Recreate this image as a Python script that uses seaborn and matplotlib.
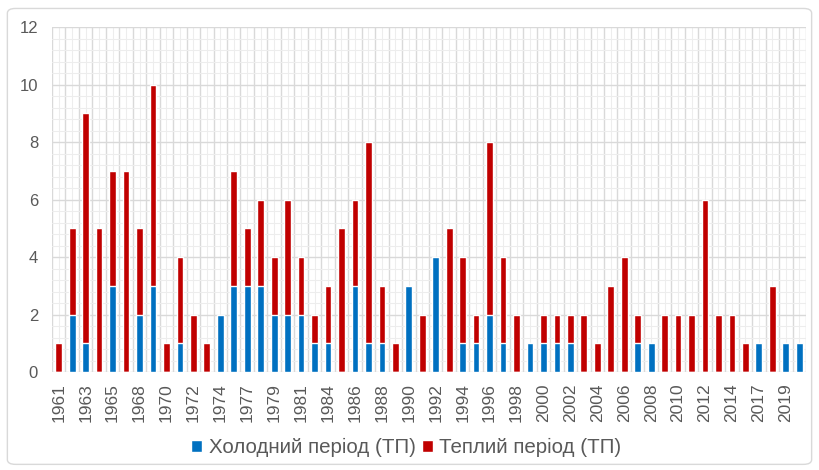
import numpy as np
import matplotlib
matplotlib.use('Agg')
import matplotlib.pyplot as plt
from matplotlib.patches import FancyBboxPatch
import seaborn as sns

years = ['1961', '1962', '1963', '1964', '1965', '1966', '1968', '1969', '1970', '1971',
         '1972', '1973', '1974', '1976', '1977', '1978', '1979', '1980', '1981', '1983',
         '1984', '1985', '1986', '1987', '1988', '1989', '1990', '1991', '1992', '1993',
         '1994', '1995', '1996', '1997', '1998', '1999', '2000', '2001', '2002', '2003',
         '2004', '2005', '2006', '2007', '2008', '2009', '2010', '2011', '2012', '2013',
         '2014', '2016', '2017', '2018', '2019', '2020']
cold = [0, 2, 1, 0, 3, 0, 2, 3, 0, 1, 0, 0, 2, 3, 3, 3, 2, 2, 2, 1,
        1, 0, 3, 1, 1, 0, 3, 0, 4, 0, 1, 1, 2, 1, 0, 1, 1, 1, 1, 0,
        0, 0, 0, 1, 1, 0, 0, 0, 0, 0, 0, 0, 1, 0, 1, 1]
warm = [1, 3, 8, 5, 4, 7, 3, 7, 1, 3, 2, 1, 0, 4, 2, 3, 2, 4, 2, 1,
        2, 5, 3, 7, 2, 1, 0, 2, 0, 5, 3, 1, 6, 3, 2, 0, 1, 1, 1, 2,
        1, 3, 4, 1, 0, 2, 2, 2, 6, 2, 2, 1, 0, 3, 0, 0]

label_cold = 'Холодний період (ТП)'
label_warm = 'Теплий період (ТП)'
blue = '#0070C0'
red = '#C00000'

sns.set_style('white')
plt.rcParams['font.family'] = ['Liberation Sans', 'DejaVu Sans']

total = np.array(cold) + np.array(warm)

fig = plt.figure(figsize=(8.19, 4.70), dpi=100)
ax = fig.add_axes([0.0635, 0.2085, 0.9206, 0.734])

# stacked: total in red, cold part over it in blue
sns.barplot(x=years, y=total, color=red, width=0.5, saturation=1, ax=ax, label=label_warm, zorder=3)
sns.barplot(x=years, y=cold, color=blue, width=0.5, saturation=1, ax=ax, label=label_cold, zorder=4)

n = len(years)
ax.set_xlim(-0.5, n - 0.5)
ax.set_ylim(0, 12)
ax.set_yticks(np.arange(0, 13, 2))
ax.set_yticks(np.arange(0, 12.01, 0.4), minor=True)
ax.set_xticks(range(n))
ax.set_xticklabels([y if i % 2 == 0 else '' for i, y in enumerate(years)], rotation=90)
ax.set_xticks(np.arange(-0.5, n, 1), minor=True)

ax.grid(which='major', axis='y', color='#D9D9D9', lw=1.0, zorder=0)
ax.grid(which='minor', axis='y', color='#EDEDED', lw=0.8, zorder=0)
ax.grid(which='minor', axis='x', color='#D9D9D9', lw=1.0, zorder=0)
ax.grid(which='major', axis='x', color='#EDEDED', lw=0.8, zorder=0)
ax.set_axisbelow(True)

ax.tick_params(which='both', length=0)
ax.tick_params(axis='x', labelsize=12.5, colors='#595959', pad=8)
ax.tick_params(axis='y', labelsize=12, colors='#595959', pad=10)
for s in ax.spines.values():
    s.set_visible(False)
ax.set_xlabel('')
ax.set_ylabel('')

h, l = ax.get_legend_handles_labels()
ax.legend(h[::-1], l[::-1], loc='center', bbox_to_anchor=(0.496, 0.047), bbox_transform=fig.transFigure,
          ncol=2, frameon=False, fontsize=14.8, handlelength=0.55, handleheight=0.55,
          handletextpad=0.3, columnspacing=0.3, labelcolor='#595959')

fig.patches.append(FancyBboxPatch((0.009, 0.012), 0.982, 0.97, boxstyle='round,pad=0,rounding_size=0.01',
                                  transform=fig.transFigure, fc='none', ec='#D9D9D9', lw=1.0))

fig.savefig('out.png', dpi=100)
